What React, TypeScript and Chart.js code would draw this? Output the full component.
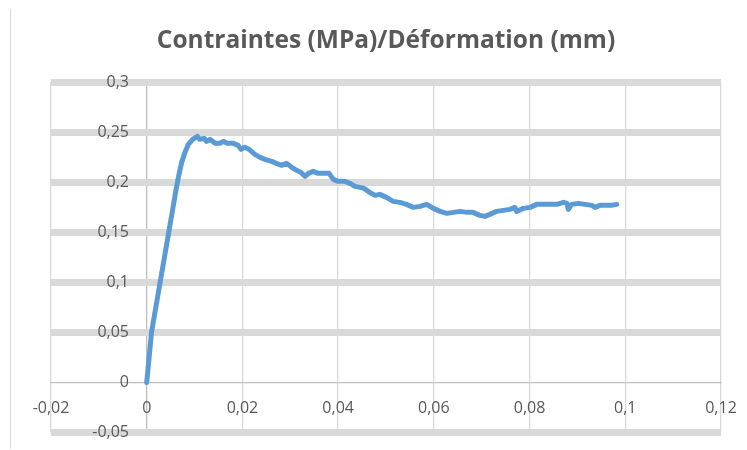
import React, { useEffect, useRef } from "react";
import { Chart, registerables } from "chart.js";

Chart.register(...registerables);

const chartTitle = "Contraintes (MPa)/Déformation (mm)";

// Déformation (mm)
const deformation = [
  0, 0.0004, 0.001, 0.0019, 0.0028, 0.0037, 0.0046, 0.0055, 0.0061, 0.0067,
  0.0073, 0.008, 0.0087, 0.0096, 0.0106, 0.0111, 0.012, 0.0125, 0.0132, 0.0143,
  0.0153, 0.0161, 0.0168, 0.0181, 0.0191, 0.0197, 0.0205, 0.0214, 0.0226, 0.0237,
  0.0247, 0.0261, 0.0271, 0.0282, 0.0292, 0.0303, 0.0313, 0.0322, 0.0331, 0.0338,
  0.0348, 0.0358, 0.0369, 0.0381, 0.039, 0.04, 0.0414, 0.0425, 0.0435, 0.0446,
  0.0454, 0.0466, 0.0477, 0.0487, 0.0501, 0.0515, 0.0529, 0.0543, 0.0557, 0.0571,
  0.0585, 0.0599, 0.0613, 0.0627, 0.0641, 0.0655, 0.0669, 0.0682, 0.0696, 0.0707,
  0.0717, 0.0731, 0.0745, 0.0759, 0.0769, 0.0773, 0.0787, 0.0801, 0.0815, 0.0829,
  0.0843, 0.0857, 0.0871, 0.0878, 0.0881, 0.0888, 0.0902, 0.0916, 0.093, 0.0937,
  0.0947, 0.0961, 0.0971, 0.0982,
];

// Contraintes (MPa)
const contraintes = [
  0, 0.02, 0.05, 0.075, 0.1, 0.125, 0.15, 0.175, 0.192, 0.207,
  0.22, 0.23, 0.238, 0.243, 0.246, 0.243, 0.244, 0.241, 0.243, 0.239,
  0.239, 0.241, 0.239, 0.239, 0.237, 0.233, 0.235, 0.233, 0.228, 0.225,
  0.223, 0.221, 0.219, 0.217, 0.219, 0.215, 0.212, 0.21, 0.206, 0.209,
  0.211, 0.209, 0.209, 0.209, 0.203, 0.201, 0.201, 0.199, 0.196, 0.195,
  0.194, 0.19, 0.187, 0.188, 0.185, 0.181, 0.18, 0.178, 0.175, 0.176,
  0.178, 0.174, 0.171, 0.169, 0.17, 0.171, 0.17, 0.17, 0.167, 0.166,
  0.168, 0.171, 0.172, 0.173, 0.175, 0.171, 0.174, 0.175, 0.178, 0.178,
  0.178, 0.178, 0.18, 0.179, 0.173, 0.178, 0.179, 0.178, 0.177, 0.175,
  0.177, 0.177, 0.177, 0.178,
];

const xTickValues = [-0.02, 0, 0.02, 0.04, 0.06, 0.08, 0.1, 0.12];
const xTickLabels = ["-0,02", "0", "0,02", "0,04", "0,06", "0,08", "0,1", "0,12"];
const yTickValues = [-0.05, 0, 0.05, 0.1, 0.15, 0.2, 0.25, 0.3];
const yTickLabels = ["-0,05", "0", "0,05", "0,1", "0,15", "0,2", "0,25", "0,3"];

// value on the x axis where the y tick labels end (labels sit left of the vertical axis)
const Y_LABELS_AT_X = -0.0037;

const FONT = '"Open Sans", "Liberation Sans", sans-serif';
const TEXT = "#595959";
const GRID = "#d9d9d9";
const AXIS = "#bfbfbf";

function labelFor(values: number[], labels: string[], v: number) {
  const i = values.findIndex((t) => Math.abs(t - v) < 1e-9);
  return i >= 0 ? labels[i] : "";
}

export default function App() {
  const ref = useRef<HTMLCanvasElement | null>(null);

  useEffect(() => {
    if (!ref.current) return;
    const points = deformation.map((x, i) => ({ x, y: contraintes[i] }));
    const chart = new Chart(ref.current, {
      type: "scatter",
      data: {
        datasets: [
          {
            data: points,
            showLine: true,
            borderColor: "#5b9bd5",
            backgroundColor: "#5b9bd5",
            borderWidth: 5,
            pointRadius: 0,
            tension: 0,
            borderCapStyle: "round",
            borderJoinStyle: "round",
          },
        ],
      },
      options: {
        animation: false,
        responsive: false,
        maintainAspectRatio: false,
        layout: { padding: { left: 51, right: 26, top: 0, bottom: 17.5 } },
        plugins: {
          legend: { display: false },
          tooltip: { enabled: false },
          title: {
            display: true,
            text: chartTitle,
            color: TEXT,
            font: { family: FONT, size: 24.5, weight: "bold", lineHeight: 1.2 },
            padding: { top: 26, bottom: 26.9 },
          },
        },
        scales: {
          x: {
            type: "linear",
            min: -0.02,
            max: 0.12,
            position: { y: 0 },
            afterFit: (s: any) => {
              s.height = 0;
              s.paddingLeft = 0;
              s.paddingRight = 0;
              s.paddingTop = 0;
              s.paddingBottom = 0;
            },
            afterBuildTicks: (s: any) => {
              s.ticks = xTickValues.map((value) => ({ value }));
            },
            grid: {
              color: (c: any) => (c.tick && c.tick.value === 0 ? AXIS : GRID),
              lineWidth: 1.3,
              drawTicks: false,
            },
            border: { display: true, color: AXIS, width: 1.3 },
            ticks: {
              padding: 16,
              color: TEXT,
              font: { family: FONT, size: 16 },
              maxRotation: 0,
              autoSkip: false,
              callback: (v: any) => labelFor(xTickValues, xTickLabels, Number(v)),
            },
          },
          y: {
            type: "linear",
            min: -0.05,
            max: 0.3,
            position: { x: Y_LABELS_AT_X },
            afterFit: (s: any) => {
              s.width = 0;
              s.paddingLeft = 0;
              s.paddingRight = 0;
              s.paddingTop = 0;
              s.paddingBottom = 0;
            },
            afterBuildTicks: (s: any) => {
              s.ticks = yTickValues.map((value) => ({ value }));
            },
            grid: {
              color: (c: any) => (c.tick && c.tick.value === 0 ? "rgba(0,0,0,0)" : GRID),
              lineWidth: 7,
              drawTicks: false,
            },
            border: { display: false },
            ticks: {
              padding: 0,
              color: TEXT,
              font: { family: FONT, size: 16 },
              autoSkip: false,
              callback: (v: any) => labelFor(yTickValues, yTickLabels, Number(v)),
            },
          },
        },
      },
    });
    return () => chart.destroy();
  }, []);

  return (
    <div style={{ position: "fixed", left: 0, top: 0, width: 747, height: 450, background: "#fff" }}>
      <div
        style={{
          position: "absolute",
          left: 10,
          top: 9,
          width: 0,
          height: 440,
          borderLeft: "1px solid #d9d9d9",
        }}
      />
      <canvas ref={ref} width={747} height={450} style={{ position: "absolute", left: 0, top: 0 }} />
    </div>
  );
}
